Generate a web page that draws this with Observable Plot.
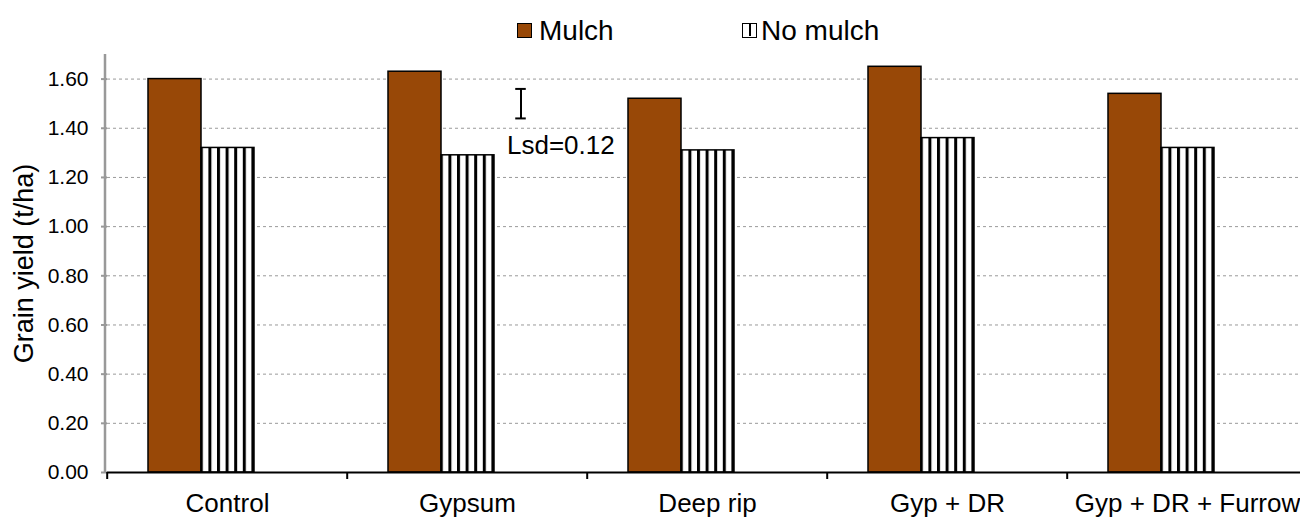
<!DOCTYPE html>
<html><head><meta charset="utf-8">
<script src="https://cdn.jsdelivr.net/npm/d3@7"></script>
<script src="https://cdn.jsdelivr.net/npm/@observablehq/plot@0.6"></script>
<style>
html,body{margin:0;padding:0;background:#fff;overflow:hidden;width:1300px;height:518px}
body{font-family:"Liberation Sans",Arial,sans-serif;color:#000}
#legend{position:relative;height:45px;width:1300px}
#legend .sw{position:absolute;top:23px;width:15px;height:15px;box-sizing:border-box;border:1.5px solid #000}
#legend .lab{position:absolute;top:17px;font-size:28px;line-height:28px;white-space:nowrap}
#chart{width:1300px;overflow:hidden}
#chart svg{display:block;max-width:none !important}
</style></head><body>
<div id="legend"></div>
<div id="chart"></div>
<script>
const categories = ["Control", "Gypsum", "Deep rip", "Gyp + DR", "Gyp + DR + Furrow"];
const seriesNames = ["Mulch", "No mulch"];
const mulchValues = [1.60, 1.63, 1.52, 1.65, 1.54];
const noMulchValues = [1.32, 1.29, 1.31, 1.36, 1.32];
const yTickValues = [0, 0.2, 0.4, 0.6, 0.8, 1.0, 1.2, 1.4, 1.6];
const yMax = 1.7;
const lsdCategory = "Gypsum";
const lsdValue = 0.12;
const lsdCentre = 1.50;
const lsdLabel = "Lsd=0.12";
const yLabel = "Grain yield (t/ha)";

const brown = "#984807";
const W = 1310, H = 473, ML = 105, MR = 2, MT = 9, MB = 46;
const slotNames = [...seriesNames, "Lsd"];
const facetW = (W - ML - MR) / categories.length;
const step = facetW / (slotNames.length + 1.5);

const rows = categories.flatMap((c, i) => [
  {cat: c, series: seriesNames[0], value: mulchValues[i]},
  {cat: c, series: seriesNames[1], value: noMulchValues[i]}
]);
const lsdRows = [{cat: lsdCategory, slot: "Lsd", lo: lsdCentre - lsdValue / 2, hi: lsdCentre + lsdValue / 2}];

// legend
const legend = d3.select("#legend");
legend.append("div").attr("class", "sw").style("left", "517px").style("background", brown);
legend.append("div").attr("class", "lab").style("left", "539px").text(seriesNames[0]);
legend.append("div").attr("class", "sw").style("left", "742px").style("background", "#fff")
  .html('<svg width="12" height="12" style="display:block"><rect x="6" y="0" width="2" height="12" fill="#000"/></svg>');
legend.append("div").attr("class", "lab").style("left", "761px").text(seriesNames[1]);

const capInset = (step - 11) / 2;

const chart = Plot.plot({
  width: W, height: H,
  marginLeft: ML, marginRight: MR, marginTop: MT, marginBottom: MB,
  style: {fontFamily: '"Liberation Sans", Arial, sans-serif', fontSize: "21px", color: "#000", background: "#fff", overflow: "visible", maxWidth: "none"},
  fx: {domain: categories, padding: 0, axis: null, label: null},
  x: {domain: slotNames, paddingInner: 0, paddingOuter: 0.75, axis: null},
  y: {domain: [0, yMax], axis: null},
  marks: [
    Plot.gridY(yTickValues, {stroke: "#9a9a9a", strokeOpacity: 1, strokeDasharray: "3,3", strokeWidth: 1}),
    Plot.barY(rows.filter(d => d.series === seriesNames[0]), {fx: "cat", x: "series", y: "value", fill: brown, stroke: "#000", strokeWidth: 1.5}),
    Plot.barY(rows.filter(d => d.series === seriesNames[1]), {fx: "cat", x: "series", y: "value", fill: "url(#vstripes)", stroke: "#000", strokeWidth: 1.5}),
    Plot.ruleX(lsdRows, {fx: "cat", x: "slot", y1: "lo", y2: "hi", stroke: "#000", strokeWidth: 2}),
    Plot.tickY(lsdRows, {fx: "cat", x: "slot", y: "lo", insetLeft: capInset, insetRight: capInset, stroke: "#000", strokeWidth: 2}),
    Plot.tickY(lsdRows, {fx: "cat", x: "slot", y: "hi", insetLeft: capInset, insetRight: capInset, stroke: "#000", strokeWidth: 2}),
    Plot.text(lsdRows, {fx: "cat", x: "slot", y: "lo", text: () => lsdLabel, textAnchor: "start", dx: -14, dy: 27, fontSize: 26, fill: "#000"}),
    Plot.axisY(yTickValues, {anchor: "left", tickFormat: d3.format(".2f"), tickSize: 6, tickPadding: 13, stroke: "#999", strokeWidth: 2, fontSize: 21, label: null}),
    Plot.axisY([], {anchor: "left", label: yLabel, labelAnchor: "center", labelArrow: "none", labelOffset: 94, fontSize: 27, tickSize: 0}),
    Plot.ruleY([0], {stroke: "#000", strokeWidth: 2}),
    Plot.axisFx({anchor: "bottom", tickSize: 7, tickFormat: () => "", dx: -facetW / 2, stroke: "#000", strokeWidth: 2, label: null}),
    Plot.axisFx({anchor: "bottom", tickSize: 0, tickPadding: 21, fontSize: 26, label: null})
  ]
});

const svg = d3.select(chart);
svg.style("max-width", "none").style("height", H + "px").style("width", W + "px");
svg.insert("defs", ":first-child").html(
  '<pattern id="vstripes" patternUnits="userSpaceOnUse" width="8.6" height="10">' +
  '<rect width="8.6" height="10" fill="#fff"/><rect x="0" width="3" height="10" fill="#000"/></pattern>'
);
// vertical y-axis line, placed with the chart's own y scale
const yScale = chart.scale("y");
svg.append("line")
  .attr("x1", ML).attr("x2", ML)
  .attr("y1", yScale.apply(yMax)).attr("y2", yScale.apply(0))
  .attr("stroke", "#999").attr("stroke-width", 2.5);
document.getElementById("chart").appendChild(chart);
</script>
</body></html>
